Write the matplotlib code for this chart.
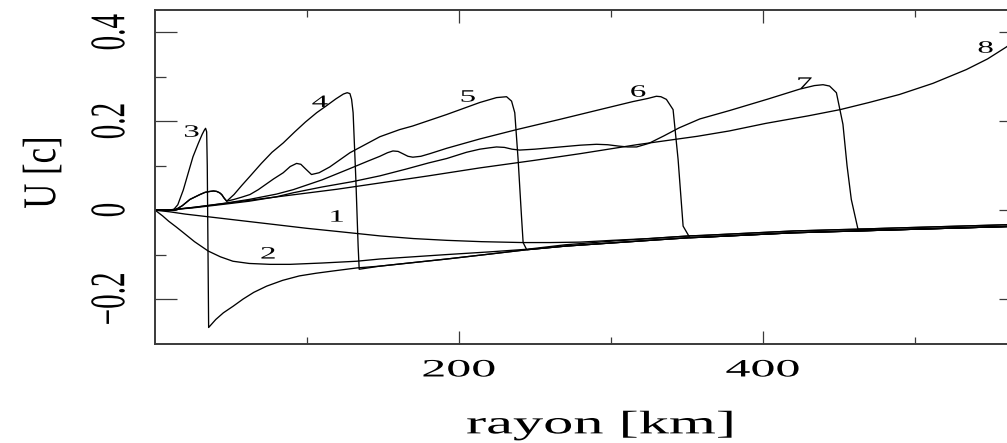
import numpy as np
import matplotlib
matplotlib.use("Agg")
import matplotlib.pyplot as plt
from matplotlib.patheffects import AbstractPathEffect
from matplotlib.transforms import Affine2D

plt.rcParams["font.family"] = ["Liberation Serif", "DejaVu Serif"]

# ---------------------------------------------------------------------------
# Velocity profiles U(r) at successive times (r in km, U in units of c)
# ---------------------------------------------------------------------------

# precursor hump shared by profiles 4 and 5
hump_x = [0, 8, 13.2, 18, 23, 29.6, 33, 36.2, 38.5, 40.6, 42.5, 43.9, 45.5, 47.2]
hump_y = [0, 0, 0, 0.01, 0.024, 0.035, 0.040, 0.042, 0.043, 0.042, 0.039, 0.035, 0.027, 0.020]

# post-shock flow left behind profile 3 (lower branch)
tail_x = [35.3, 40, 45, 51.5, 58, 65, 73.5, 84, 95, 106, 117, 133, 148, 170, 192, 220, 245]
tail_y = [-0.264, -0.246, -0.231, -0.216, -0.200, -0.185, -0.171, -0.158, -0.148,
          -0.142, -0.137, -0.130, -0.126, -0.118, -0.110, -0.099, -0.089]

# common infall branch reached by all profiles at large radius
env_x = [245, 270, 300, 330, 352, 360, 390, 420, 450, 462, 480, 510, 540, 570]
env_lo_y = [-0.089, -0.081, -0.074, -0.067, -0.062, -0.061, -0.056, -0.051, -0.048,
            -0.047, -0.045, -0.042, -0.039, -0.036]
env_hi_y = [-0.088, -0.078, -0.070, -0.063, -0.058, -0.057, -0.052, -0.047, -0.044,
            -0.043, -0.041, -0.038, -0.035, -0.032]

c1_x = [0, 10, 20, 40, 60, 77.6, 100, 120, 148, 170, 192, 215, 242, 260, 280, 301, 325, 352]
c1_y = [0, -0.004, -0.009, -0.017, -0.025, -0.032, -0.041, -0.048, -0.058, -0.064,
        -0.068, -0.071, -0.073, -0.073, -0.072, -0.068, -0.064, -0.058]

c2_x = [0, 5, 9, 14, 18.4, 26, 35, 43, 51.3, 62, 75.7, 88.8, 110, 132.7, 148, 170, 192, 220, 245]
c2_y = [0, -0.013, -0.025, -0.038, -0.050, -0.071, -0.092, -0.105, -0.115, -0.120,
        -0.122, -0.122, -0.119, -0.115, -0.110, -0.105, -0.100, -0.094, -0.088]

c3_x = [0, 8, 12, 15, 18.6, 22, 25, 28.5, 31, 32.5, 33.3, 34.0, 34.4, 34.9]
c3_y = [0, 0, 0, 0.012, 0.045, 0.085, 0.120, 0.150, 0.170, 0.180, 0.184, 0.176, 0.100, -0.100]

c4_x = [52, 57, 62.5, 70, 77, 84.4, 92, 99, 106.4, 113, 119, 124, 126.5, 128.3,
        129.4, 130.4, 132.2, 133.7, 134.4]
c4_y = [0.035, 0.055, 0.076, 0.105, 0.130, 0.151, 0.176, 0.198, 0.219, 0.235, 0.250,
        0.261, 0.264, 0.262, 0.249, 0.219, 0.069, -0.081, -0.133]

c5_x = [52, 57, 62.5, 68, 73, 78, 84.4, 89, 93.2, 96, 99, 103, 108, 115, 128.3, 148,
        161, 169.5, 192, 213.8, 224.8, 231.4, 234.7, 236.8, 239, 241.2, 242.3, 244.5]
c5_y = [0.024, 0.029, 0.035, 0.046, 0.058, 0.070, 0.084, 0.098, 0.105, 0.103, 0.093,
        0.080, 0.084, 0.097, 0.129, 0.165, 0.181, 0.189, 0.215, 0.242, 0.253, 0.255,
        0.245, 0.219, 0.114, -0.013, -0.073, -0.088]

c6_x = [0, 8, 25, 45, 62, 80, 91, 110, 128, 140, 148, 153, 156.6, 160, 163, 166.5,
        169.7, 175, 181, 192, 213.8, 238, 266.4, 292.8, 314.5, 324.3, 330, 333,
        336.6, 341, 344.3, 347.6, 352]
c6_y = [0, 0, 0.006, 0.015, 0.024, 0.036, 0.046, 0.068, 0.093, 0.110, 0.121, 0.129,
        0.133, 0.132, 0.127, 0.121, 0.119, 0.121, 0.127, 0.139, 0.160, 0.181, 0.204,
        0.226, 0.244, 0.251, 0.256, 0.255, 0.249, 0.226, 0.114, -0.036, -0.062]

c7_x = [0, 8, 25, 45, 62, 80, 91, 110, 130, 148, 165, 180, 192, 205, 213.8, 220,
        224.8, 230, 235, 240, 250, 260, 270, 280, 290.6, 298, 305, 311, 317, 325,
        335, 345, 358.6, 378.3, 403.7, 424.3, 434, 439.7, 444, 448.5, 452.8, 455.5,
        458.3, 462.7]
c7_y = [0, 0, 0.005, 0.013, 0.020, 0.030, 0.039, 0.052, 0.064, 0.077, 0.092, 0.106,
        0.116, 0.130, 0.137, 0.140, 0.142, 0.141, 0.137, 0.135, 0.137, 0.140, 0.143,
        0.146, 0.148, 0.147, 0.144, 0.142, 0.142, 0.150, 0.167, 0.185, 0.205, 0.224,
        0.250, 0.272, 0.280, 0.282, 0.279, 0.264, 0.193, 0.100, 0.024, -0.043]

c8_x = [0, 10, 30, 62, 90, 120, 148, 180, 214, 250, 280, 317, 357, 378, 402, 430,
        451, 470, 490, 512, 534, 548, 560, 570]
c8_y = [0, 0, 0.008, 0.022, 0.034, 0.047, 0.061, 0.077, 0.095, 0.112, 0.127, 0.147,
        0.166, 0.178, 0.195, 0.212, 0.226, 0.242, 0.260, 0.285, 0.316, 0.340, 0.366,
        0.390]

# curve numbers and where they are written
tag_text = ["1", "2", "3", "4", "5", "6", "7", "8"]
tag_x = [119.7, 74.5, 24.1, 108.6, 206, 318, 427.6, 546.7]
tag_y = [-0.017, -0.100, 0.174, 0.241, 0.253, 0.264, 0.282, 0.363]

x_major = [200, 400]
x_major_labels = ["200", "400"]
x_minor = [100, 300, 500]
y_major = [-0.2, 0.0, 0.2, 0.4]
y_major_labels = ["\u22120.2", "0", "0.2", "0.4"]
y_minor = [-0.1, 0.1, 0.3]


def chain(x, y, next_x, next_y):
    """Append the part of (next_x, next_y) lying beyond the end of (x, y)."""
    x = np.asarray(x, float)
    y = np.asarray(y, float)
    nx = np.asarray(next_x, float)
    ny = np.asarray(next_y, float)
    keep = nx > x[-1]
    return np.concatenate([x, nx[keep]]), np.concatenate([y, ny[keep]])


class Widen(AbstractPathEffect):
    """Draw glyphs stretched horizontally about their own centre."""

    def __init__(self, factor):
        super().__init__()
        self._factor = factor

    def draw_path(self, renderer, gc, tpath, affine, rgbFace=None):
        ext = tpath.get_extents(affine)
        cx = 0.5 * (ext.x0 + ext.x1)
        wide = affine + Affine2D().translate(-cx, 0).scale(self._factor, 1.0).translate(cx, 0)
        renderer.draw_path(gc, tpath, wide, rgbFace)


profiles = []
profiles.append(chain(c1_x, c1_y, env_x, env_hi_y))
profiles.append(chain(c2_x, c2_y, env_x, env_hi_y))
profiles.append(chain(*chain(c3_x, c3_y, tail_x, tail_y), env_x, env_lo_y))
profiles.append(chain(*chain(*chain(hump_x, hump_y, c4_x, c4_y), tail_x, tail_y), env_x, env_lo_y))
profiles.append(chain(*chain(hump_x, hump_y, c5_x, c5_y), env_x, env_lo_y))
profiles.append(chain(c6_x, c6_y, env_x, env_lo_y))
profiles.append(chain(c7_x, c7_y, env_x, env_lo_y))
profiles.append((np.asarray(c8_x, float), np.asarray(c8_y, float)))

W, H = 1007, 443
fig = plt.figure(figsize=(W / 100, H / 100), dpi=100)
ax = fig.add_axes([155 / W, 99.5 / H, 866 / W, 333.5 / H])

for px, py in profiles:
    ax.plot(px, py, color="black", lw=0.95, solid_joinstyle="round")

for t, tx, ty in zip(tag_text, tag_x, tag_y):
    ax.text(tx, ty, t, ha="center", va="center", fontsize=12.5, color="black",
            path_effects=[Widen(1.9)])

ax.set_xlim(0, 570)
ax.set_ylim(-0.3, 0.45)

ax.set_xticks(x_major, labels=x_major_labels)
ax.set_xticks(x_minor, minor=True)
ax.set_yticks(y_major, labels=y_major_labels)
ax.set_yticks(y_minor, minor=True)

edge = "#3a3a3a"
for s in ax.spines.values():
    s.set_linewidth(1.4)
    s.set_color(edge)

ax.tick_params(which="both", direction="in", top=True, right=True, color=edge, width=0.9)
ax.tick_params(axis="x", which="major", length=9.4, pad=11.5, labelsize=18)
ax.tick_params(axis="x", which="minor", length=5.0)
ax.tick_params(axis="y", which="major", length=15.8, pad=32, labelsize=21)
ax.tick_params(axis="y", which="minor", length=7.9)

for lab in ax.get_xticklabels():
    lab.set_path_effects([Widen(2.0)])
for lab in ax.get_yticklabels():
    lab.set_rotation(90)
    lab.set_ha("center")
    lab.set_va("center")
    lab.set_path_effects([Widen(1.7)])

ax.set_xlabel("rayon [km]", fontsize=23.5)
ax.xaxis.set_label_coords(0.514, -0.199)
ax.xaxis.label.set_path_effects([Widen(1.85)])

ax.set_ylabel("U [c]", fontsize=25)
ax.yaxis.set_label_coords(-0.11, 0.513)
ax.yaxis.label.set_path_effects([Widen(1.35)])

fig.savefig("out.png", dpi=100)
